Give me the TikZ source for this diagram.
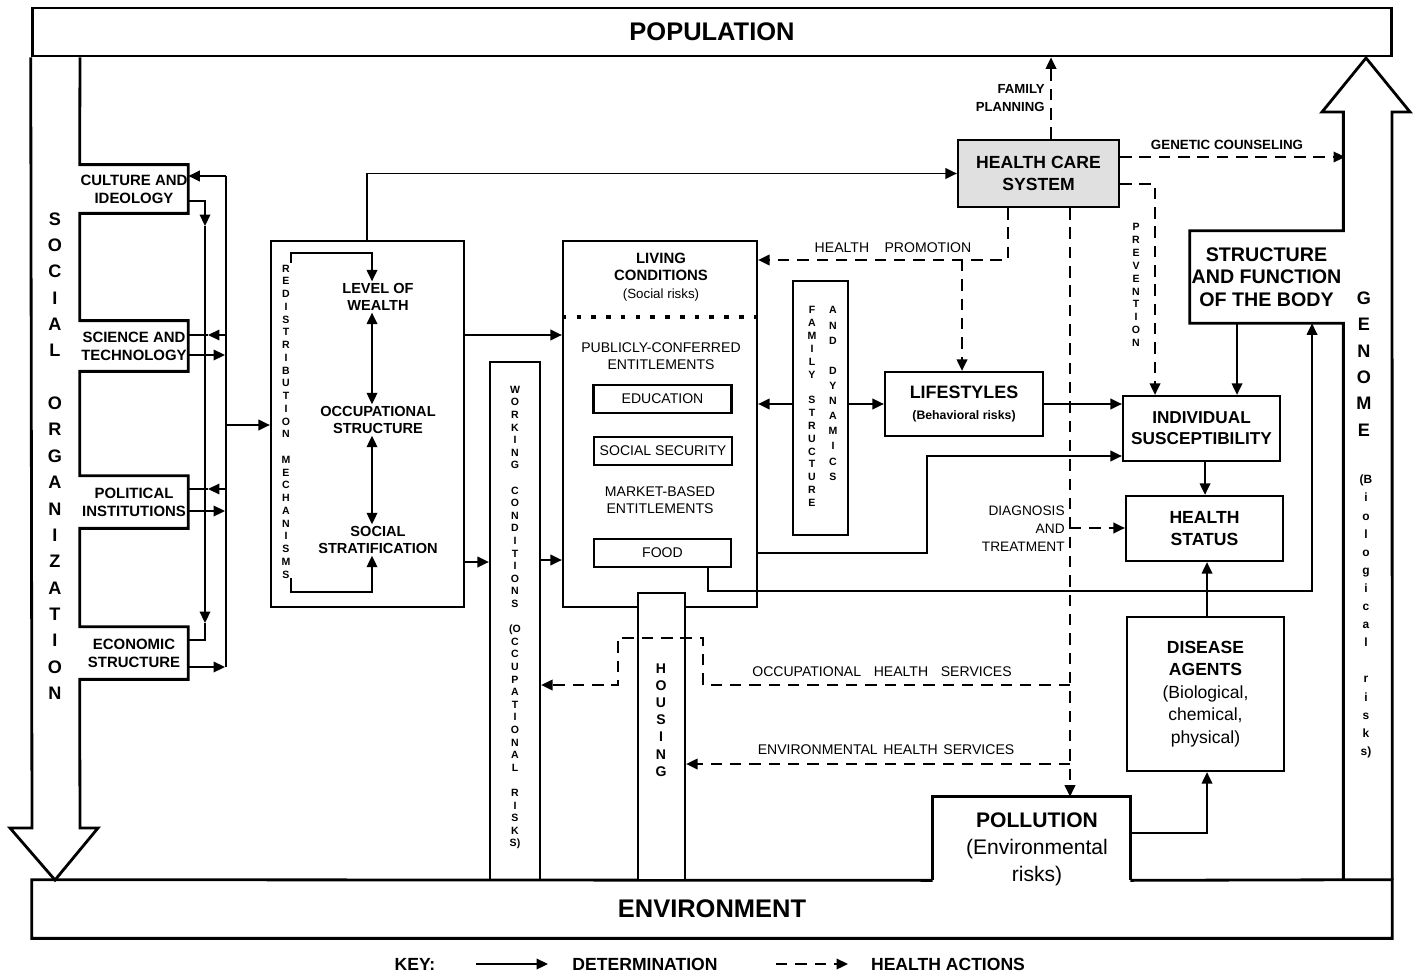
\documentclass[tikz,border=0pt]{standalone}
\usepackage{fontspec}
\setmainfont{Liberation Sans}
\usepackage{tikz}
\usetikzlibrary{arrows.meta}
\tikzset{
  >={Triangle[length=6.5pt,width=6pt]},
  outline/.style={line width=1.6pt},
  bar/.style={draw, line width=1.6pt, inner sep=0pt, minimum width=27.2cm,
    font=\bfseries\fontsize{14.5}{17}\selectfont},
  soblock/.style={inner sep=0pt, minimum width=2.16cm, align=center,
    font=\bfseries\fontsize{8.5}{10.2}\selectfont},
  block/.style={draw, line width=1.3pt, inner sep=0pt, align=center},
  txt/.style={inner sep=1pt, align=center, font=\bfseries\fontsize{8.3}{9.6}\selectfont},
  smalltxt/.style={inner sep=1pt, align=center, font=\fontsize{8}{9.8}\selectfont},
  vstack/.style={inner sep=0pt, align=center},
  conn/.style={line width=1pt},
  det/.style={conn, ->},
  dbl/.style={conn, <->},
  act/.style={conn, ->, dash pattern=on 6.5pt off 4.5pt},
  dotrule/.style={line width=2.6pt, dash pattern=on 2.6pt off 5.8pt},
  keytxt/.style={inner sep=0pt, font=\bfseries\fontsize{10}{12}\selectfont}
}
\begin{document}
\begin{tikzpicture}[x=0.02cm, y=-0.02cm]
  \useasboundingbox (0,0) rectangle (1415,976);

  % ── Population and environment bars ────────────────────────────────────────
  \node[bar, minimum height=0.96cm] (population) at (712,32) {POPULATION};
  \node[inner sep=0pt, minimum width=27.2cm, minimum height=1.16cm,
        font=\bfseries\fontsize{14.5}{17}\selectfont] (environment) at (712,909) {ENVIRONMENT};
  \node[inner sep=0pt, minimum width=3.94cm, minimum height=1.66cm] (pollution) at (1031.5,838.5) {};
  \node[inner sep=0pt, align=center, font=\fontsize{12}{15.3}\selectfont] (polltext) at (1037,849)
    {\textbf{POLLUTION}\\(Environmental\\risks)};
  \draw[outline] (pollution.south west) -- (environment.north west) -- (environment.south west)
    -- (environment.south east) -- (environment.north east) -- (pollution.south east);
  \draw[outline] (pollution.south west) -- (pollution.north west) -- (pollution.north east)
    -- (pollution.south east);

  % ── Social organization (arrow down) ───────────────────────────────────────
  \node[soblock, minimum height=0.96cm] (culture) at (134,189) {CULTURE AND\\IDEOLOGY};
  \node[soblock, minimum height=1.0cm] (science) at (134,346) {SCIENCE AND\\TECHNOLOGY};
  \node[soblock, minimum height=1.04cm] (political) at (134,502) {POLITICAL\\INSTITUTIONS};
  \node[soblock, minimum height=1.04cm] (economic) at (134,653) {ECONOMIC\\STRUCTURE};
  \draw[outline] (population.south west) -- (32,828) -- (10,828) -- (55,880) -- (98,828) -- (80,828)
    -- (economic.south west) -- (economic.south east) -- (economic.north east) -- (economic.north west)
    -- (political.south west) -- (political.south east) -- (political.north east) -- (political.north west)
    -- (science.south west) -- (science.south east) -- (science.north east) -- (science.north west)
    -- (culture.south west) -- (culture.south east) -- (culture.north east) -- (culture.north west)
    -- (population.south west -| 80,0);
  \node[vstack, font=\bfseries\fontsize{10.3}{15}\selectfont] (soletters) at (55,456)
    {S\\O\\C\\I\\A\\L\\[15pt]O\\R\\G\\A\\N\\I\\Z\\A\\T\\I\\O\\N};

  % ── Genome (arrow up) ──────────────────────────────────────────────────────
  \node[inner sep=0pt, align=center, minimum width=3.06cm, minimum height=1.84cm,
        font=\bfseries\fontsize{11.2}{12.8}\selectfont] (sfb) at (1266.5,277)
    {STRUCTURE\\AND FUNCTION\\OF THE BODY};
  \draw[outline] (environment.north east) -- (1392,112) -- (1410,112) -- (1366,58) -- (1322,112)
    -- (sfb.north east |- 0,112) -- (sfb.north east) -- (sfb.north west) -- (sfb.south west)
    -- (sfb.south east) -- (sfb.south east |- environment.north);
  \node[vstack, font=\bfseries\fontsize{10.3}{15}\selectfont] (genletters) at (1364,364)
    {G\\E\\N\\O\\M\\E};
  \node[vstack, font=\bfseries\fontsize{6.8}{10.3}\selectfont] (bioletters) at (1366,616.5)
    {(B\\i\\o\\l\\o\\g\\i\\c\\a\\l\\[10.3pt]r\\i\\s\\k\\s)};

  % ── Redistribution box ─────────────────────────────────────────────────────
  \node[block, minimum width=3.86cm, minimum height=7.32cm] (redist) at (367.5,424) {};
  \node[vstack, font=\bfseries\fontsize{6}{7.26}\selectfont] (redletters) at (286,421.5)
    {R\\E\\D\\I\\S\\T\\R\\I\\B\\U\\T\\I\\O\\N\\[7.26pt]M\\E\\C\\H\\A\\N\\I\\S\\M\\S};
  \node[txt] (wealth) at (378,297) {LEVEL OF\\WEALTH};
  \node[txt] (occup) at (378,420) {OCCUPATIONAL\\STRUCTURE};
  \node[txt] (strat) at (378,540) {SOCIAL\\STRATIFICATION};

  % ── Living conditions ──────────────────────────────────────────────────────
  \node[block, minimum width=3.88cm, minimum height=7.32cm] (lc) at (660,424) {};
  \node[txt, font=\bfseries\fontsize{8.5}{9.6}\selectfont] (lctitle) at (661,267) {LIVING\\CONDITIONS};
  \node[smalltxt, font=\fontsize{7.6}{8}\selectfont] (lcrisk) at (661,295) {(Social risks)};
  \draw[dotrule] (lc.west |- 0,317) -- (lc.east |- 0,317);
  \node[smalltxt] (pce) at (661,356) {PUBLICLY-CONFERRED\\ENTITLEMENTS};
  \node[block, smalltxt, minimum width=2.76cm, minimum height=0.56cm] (edu) at (662.5,399) {EDUCATION};
  \node[block, smalltxt, minimum width=2.76cm, minimum height=0.56cm] (socsec) at (663,451) {SOCIAL SECURITY};
  \node[smalltxt] (mbe) at (660,500) {MARKET-BASED\\ENTITLEMENTS};
  \node[block, smalltxt, minimum width=2.74cm, minimum height=0.56cm] (food) at (662.5,553) {FOOD};

  \node[block, fill=white, minimum width=0.94cm, minimum height=5.74cm] (housing) at (661.5,736.5) {};
  \node[vstack, font=\bfseries\fontsize{8}{9.8}\selectfont] (housletters) at (661,720)
    {H\\O\\U\\S\\I\\N\\G};

  \node[block, minimum width=1.0cm, minimum height=10.36cm] (wc) at (515,621) {};
  \node[vstack, font=\bfseries\fontsize{6}{7.17}\selectfont] (wcletters) at (515,617.5)
    {W\\O\\R\\K\\I\\N\\G\\[7.17pt]C\\O\\N\\D\\I\\T\\I\\O\\N\\S\\[7.17pt](O\\C\\C\\U\\P\\A\\T\\I\\O\\N\\A\\L\\[7.17pt]R\\I\\S\\K\\S)};

  \node[block, minimum width=1.1cm, minimum height=5.08cm] (fsd) at (820.5,408) {};
  \node[vstack, font=\bfseries\fontsize{6}{7.3}\selectfont] (famletters) at (812,406.5)
    {F\\A\\M\\I\\L\\Y\\[7.3pt]S\\T\\R\\U\\C\\T\\U\\R\\E};
  \node[vstack, font=\bfseries\fontsize{6}{8.6}\selectfont] (dynletters) at (833,393.5)
    {A\\N\\D\\[8.6pt]D\\Y\\N\\A\\M\\I\\C\\S};

  % ── Health side ────────────────────────────────────────────────────────────
  \node[block, fill=black!12, minimum width=3.22cm, minimum height=1.34cm,
        font=\bfseries\fontsize{10}{13}\selectfont] (hcs) at (1038.5,173.5) {HEALTH CARE\\SYSTEM};
  \node[block, minimum width=3.16cm, minimum height=1.28cm,
        font=\bfseries\fontsize{10.2}{12}\selectfont] (life) at (964,404)
    {LIFESTYLES\\{\fontsize{7}{12}\selectfont(Behavioral risks)}};
  \node[block, minimum width=3.14cm, minimum height=1.3cm,
        font=\bfseries\fontsize{9.8}{12}\selectfont] (suscept) at (1201.5,428.5) {INDIVIDUAL\\SUSCEPTIBILITY};
  \node[block, minimum width=3.14cm, minimum height=1.3cm,
        font=\bfseries\fontsize{10}{12.5}\selectfont] (hstatus) at (1204.5,528.5) {HEALTH\\STATUS};
  \node[block, minimum width=3.14cm, minimum height=3.08cm,
        font=\bfseries\fontsize{10}{12.8}\selectfont] (agents) at (1205.5,694)
    {DISEASE\\AGENTS\\{\mdseries (Biological,}\\{\mdseries chemical,}\\{\mdseries physical)}};
  \node[vstack, font=\bfseries\fontsize{6}{7.3}\selectfont] (prevletters) at (1136,285)
    {P\\R\\E\\V\\E\\N\\T\\I\\O\\N};

  % ── Determination links ────────────────────────────────────────────────────
  \draw[conn] (226,176) -- (226,667);
  \draw[det] (226,176) -- (culture.east |- 0,176);
  \draw[det] (226,335) -- (208,335);
  \draw[conn] (208,335) -- (science.east |- 0,335);
  \draw[det] (science.east |- 0,355) -- (225,355);
  \draw[det] (226,489) -- (208,489);
  \draw[conn] (208,489) -- (political.east |- 0,489);
  \draw[det] (political.east |- 0,511) -- (225,511);
  \draw[det] (economic.east |- 0,667) -- (225,667);
  \draw[det] (culture.east |- 0,201) -| (205,226);
  \draw[det] (205,226) -- (205,623);
  \draw[conn] (205,623) |- (economic.east |- 0,640);
  \draw[det] (226,425) -- (redist.west |- 0,425);

  \draw[det] (291,263) |- (372,253) -- (372,0 |- wealth.north);
  \draw[det] (291,578) |- (372,592) -- (372,0 |- strat.south);
  \draw[dbl] (372,0 |- wealth.south) -- (372,0 |- occup.north);
  \draw[dbl] (372,0 |- occup.south) -- (372,0 |- strat.north);

  \draw[det] (367,0 |- redist.north) |- (hcs.west);
  \draw[det] (redist.east |- 0,335) -- (lc.west |- 0,335);
  \draw[det] (redist.east |- 0,562) -- (wc.west |- 0,562);
  \draw[det] (wc.east |- 0,560) -- (lc.west |- 0,560);
  \draw[det] (fsd.west |- 0,404) -- (lc.east |- 0,404);
  \draw[det] (fsd.east |- 0,404) -- (life.west |- 0,404);
  \draw[det] (life.east) -- (suscept.west |- life.east);
  \draw[det] (lc.east |- 0,553) -| (927,456) -- (suscept.west |- 0,456);
  \draw[det] (708,0 |- food.south) |- (1312,591) -- (1312,0 |- sfb.south);
  \draw[det] (1237,0 |- sfb.south) -- (1237,0 |- suscept.north);
  \draw[det] (1205,0 |- suscept.south) -- (1205,0 |- hstatus.north);
  \draw[det] (1207,0 |- agents.north) -- (1207,0 |- hstatus.south);
  \draw[det] (pollution.east |- 0,833) -| (1207,0 |- agents.south);

  % ── Health actions ─────────────────────────────────────────────────────────
  \coordinate (genomeside) at (1345,157);
  \draw[act] (1051,0 |- hcs.north) -- (1051,0 |- population.south);
  \draw[act] (hcs.east |- genomeside) -- (genomeside);
  \draw[act] (1008,0 |- hcs.south) |- (lc.east |- 0,260);
  \draw[act] (962,260) -- (962,0 |- life.north);
  \draw[act] (hcs.east |- 0,184) -| (1155,0 |- suscept.north);
  \draw[act] (1070,0 |- hcs.south) -- (1070,0 |- pollution.north);
  \draw[act] (1070,528) -- (hstatus.west |- 0,528);
  \draw[act] (1070,685) -| (703,638) -| (618,685) -- (wc.east |- 0,685);
  \draw[act] (1070,764) -- (housing.east |- 0,764);

  \node[anchor=east, align=right, inner sep=0pt, font=\bfseries\fontsize{7.5}{10.2}\selectfont]
    (fplan) at (1045,98) {FAMILY\\PLANNING};
  \node[inner sep=0pt, font=\bfseries\fontsize{7.6}{9}\selectfont] (genet) at (1227,145) {GENETIC COUNSELING};
  \node[smalltxt] (promo) at (893,248) {HEALTH\hspace{1.1em}PROMOTION};
  \node[anchor=east, align=right, inner sep=0pt, font=\fontsize{7.8}{10.2}\selectfont]
    (diag) at (1065,529) {DIAGNOSIS\\AND\\TREATMENT};
  \node[smalltxt] (occtext) at (882,672) {OCCUPATIONAL\hspace{0.9em}HEALTH\hspace{0.9em}SERVICES};
  \node[smalltxt] (envtext) at (886,750) {ENVIRONMENTAL\hspace{0.4em}HEALTH\hspace{0.4em}SERVICES};

  % ── Key ────────────────────────────────────────────────────────────────────
  \node[keytxt] (keylbl) at (415,964) {KEY:};
  \node[keytxt] (detlbl) at (645,964) {DETERMINATION};
  \node[keytxt] (actlbl) at (948,964) {HEALTH ACTIONS};
  \draw[det] (keylbl.east -| 476,0) -- (keylbl.east -| 548,0);
  \draw[act] (detlbl.east -| 776,0) -- (detlbl.east -| 848,0);
\end{tikzpicture}
\end{document}
